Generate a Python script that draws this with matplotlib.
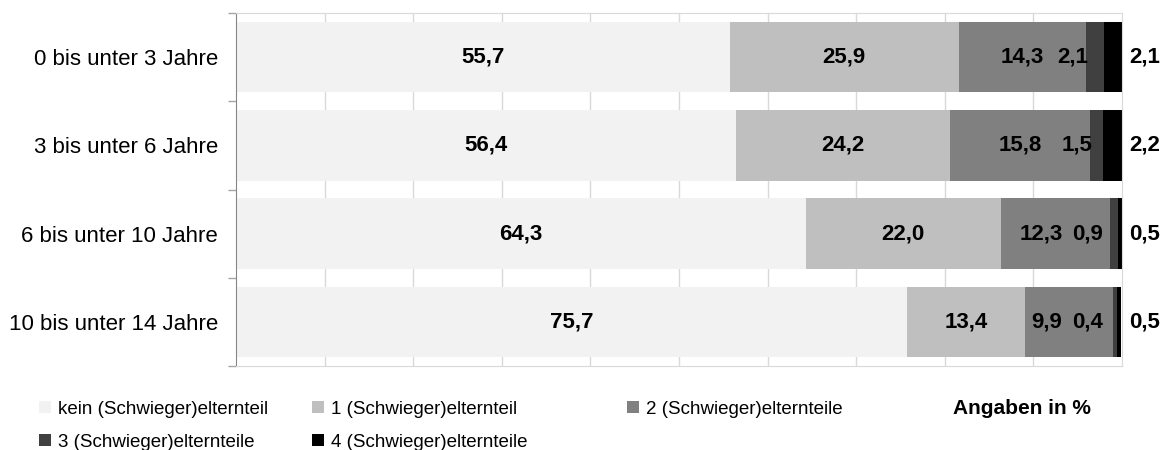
import numpy as np
import matplotlib
matplotlib.use("Agg")
import matplotlib.pyplot as plt
from matplotlib.patches import Patch

plt.rcParams['font.family'] = ['Liberation Sans', 'DejaVu Sans']

categories = ["0 bis unter 3 Jahre", "3 bis unter 6 Jahre",
              "6 bis unter 10 Jahre", "10 bis unter 14 Jahre"]
series_names = ["kein (Schwieger)elternteil", "1 (Schwieger)elternteil",
                "2 (Schwieger)elternteile", "3 (Schwieger)elternteile",
                "4 (Schwieger)elternteile"]
kein = [55.7, 56.4, 64.3, 75.7]
eins = [25.9, 24.2, 22.0, 13.4]
zwei = [14.3, 15.8, 12.3, 9.9]
drei = [2.1, 1.5, 0.9, 0.4]
vier = [2.1, 2.2, 0.5, 0.5]
colors = ["#f2f2f2", "#bfbfbf", "#808080", "#404040", "#000000"]

values = np.array([kein, eins, zwei, drei, vier])


def fmt(v):
    return f"{v:.1f}".replace('.', ',')


def text_w(s):
    # rough width of a bold 16pt label in data units (% of axis)
    return sum(0.69 if c == ',' else 1.38 for c in s)


fig = plt.figure(figsize=(11.63, 4.5), dpi=100)
ax = fig.add_axes([236 / 1163, 1 - 366 / 450, (1122 - 236) / 1163, 353 / 450])

y = np.arange(len(categories))
left = np.zeros(len(categories))
for i in range(5):
    ax.barh(y, values[i], left=left, height=0.8, color=colors[i], zorder=2)
    left = left + values[i]

font_lbl = dict(fontsize=16, fontweight='bold', color='black', va='center')
starts = np.cumsum(values, axis=0) - values
for j in range(len(categories)):
    # first two segments: centered
    for i in range(2):
        ax.text(starts[i, j] + values[i, j] / 2, y[j], fmt(values[i, j]),
                ha='center', **font_lbl)
    # segment 3 label right aligned near start of segment
    s3 = fmt(values[3, j])
    r3 = min(starts[3, j] + 0.3, 97.9)
    ax.text(r3, y[j], s3, ha='right', **font_lbl)
    # segment 2 label centered, pushed left if it collides
    s2 = fmt(values[2, j])
    c2 = starts[2, j] + values[2, j] / 2
    lim = r3 - text_w(s3) - 1.2
    if c2 + text_w(s2) / 2 > lim:
        c2 = lim - text_w(s2) / 2
    ax.text(c2, y[j], s2, ha='center', **font_lbl)
    # segment 4 label outside the plot
    ax.annotate(fmt(values[4, j]), (100, y[j]), xytext=(5, 0),
                textcoords='offset points', ha='left', annotation_clip=False,
                **font_lbl)

ax.set_xlim(0, 100)
ax.set_ylim(len(categories) - 0.5, -0.5)
ax.set_xticks(np.arange(10, 100, 10))
ax.tick_params(axis='x', length=0, labelbottom=False)
ax.grid(axis='x', color='#d9d9d9', linewidth=1, zorder=0)
ax.set_axisbelow(True)

ax.set_yticks(np.arange(-0.5, len(categories), 1))
ax.set_yticklabels([])
ax.tick_params(axis='y', which='major', length=6, color='#a6a6a6', width=1)
ax.set_yticks(y, minor=True)
ax.set_yticklabels(categories, minor=True, fontsize=16)
ax.tick_params(axis='y', which='minor', length=0, pad=13)

for side in ['top', 'right', 'bottom']:
    ax.spines[side].set_color('#d9d9d9')
ax.spines['left'].set_color('#868686')

# legend, three columns placed like the original
cols = [[0, 3], [1, 4], [2]]
col_x = [39 / 1163, 312 / 1163, 627 / 1163]
for idx, xpos in zip(cols, col_x):
    handles = [Patch(facecolor=colors[k], edgecolor='none') for k in idx]
    labels = [series_names[k] for k in idx]
    fig.legend(handles, labels, loc='upper left', bbox_to_anchor=(xpos, 1 - 401 / 450),
               frameon=False, fontsize=13.5, handlelength=0.62, handleheight=0.62,
               handletextpad=0.4, labelspacing=0.85, borderpad=0, borderaxespad=0)
fig.text(953 / 1163, 1 - 408 / 450, "Angaben in %", fontsize=15, fontweight='bold',
         va='center', ha='left')

fig.savefig("out.png", dpi=100)
